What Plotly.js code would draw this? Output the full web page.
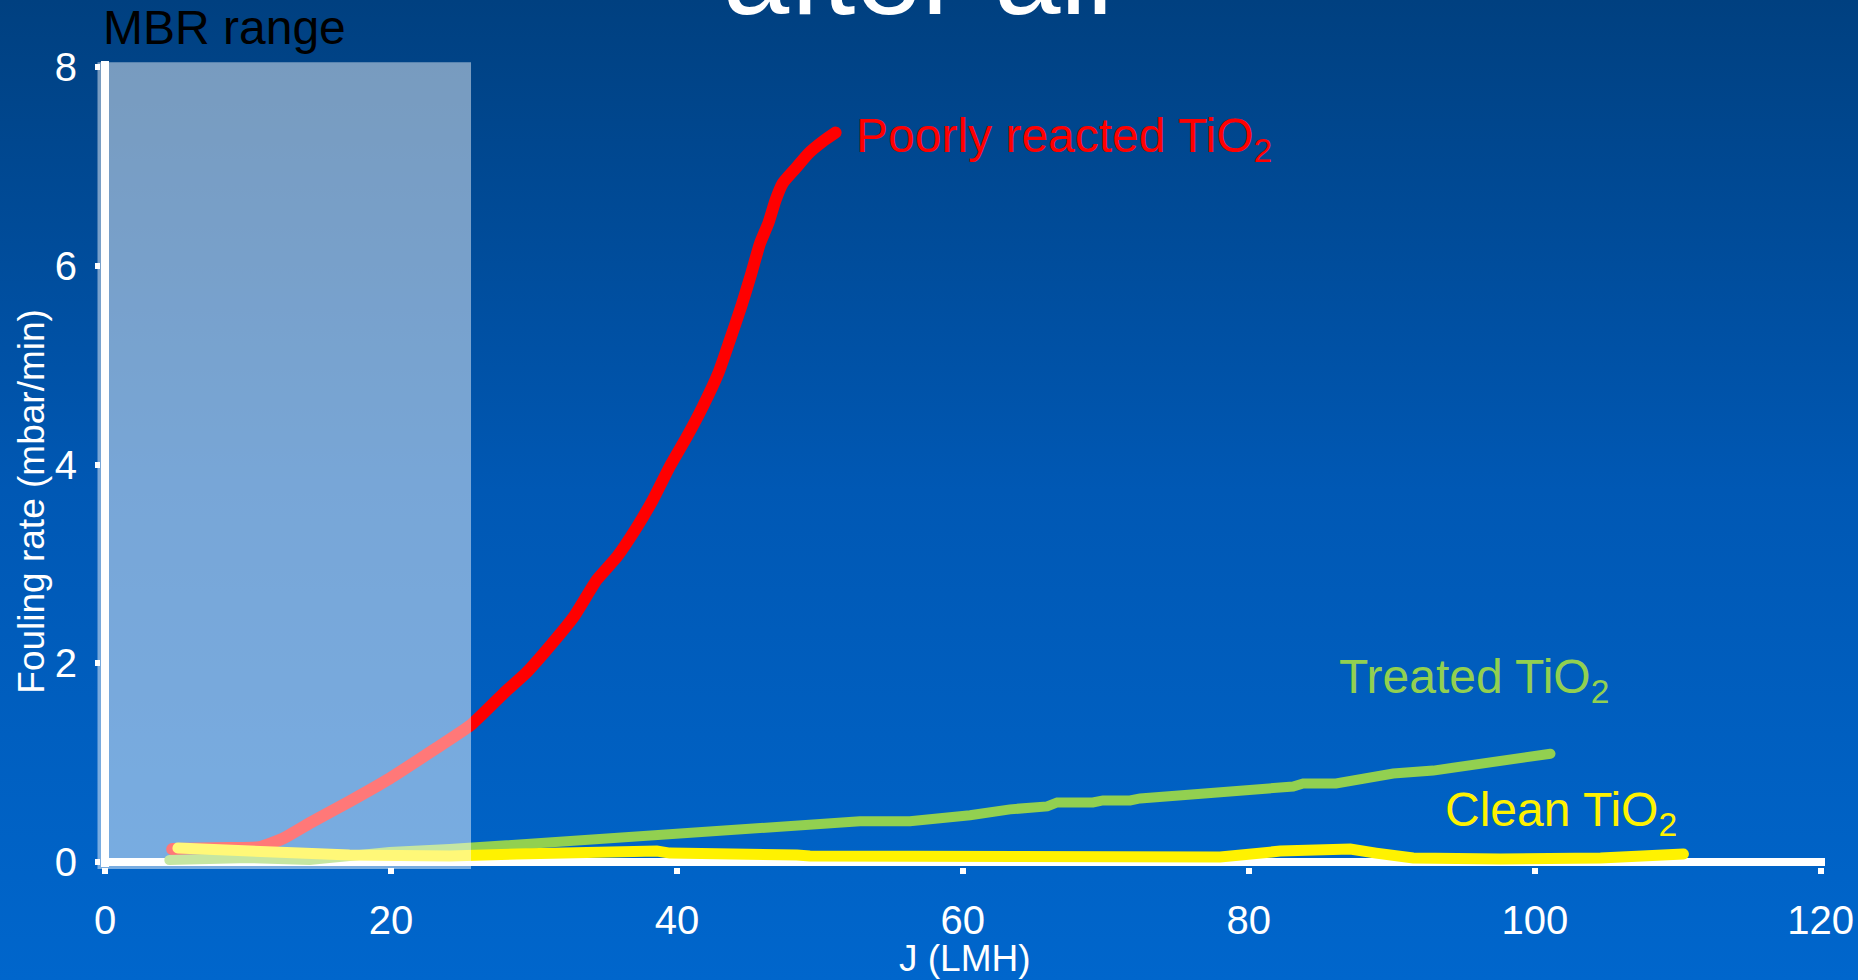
<!DOCTYPE html>
<html>
<head>
<meta charset="utf-8">
<script src="https://cdn.plot.ly/plotly-3.0.1.min.js"></script>
<style>
  html, body { margin: 0; padding: 0; }
  body {
    width: 1858px; height: 980px; overflow: hidden;
    background: linear-gradient(to bottom, #004080 0%, #0058b4 50%, #0066cc 100%);
  }
  #chart { width: 1858px; height: 980px; }
  #chart path.js-line { stroke-linecap: round !important; }
</style>
</head>
<body>
<div id="chart"></div>
<script>
// Fouling rate vs. flux for three TiO2 preparations
const poorlyJ    = [4.7, 8.7, 10.8, 12.5, 14.3, 17.1, 19.9, 23.0, 25.6, 27.9, 29.5, 31.1, 32.8, 34.4, 35.8, 37.2, 38.3, 39.5, 40.7, 41.8, 42.9, 43.7, 44.5, 45.2, 45.8, 46.4, 46.9, 47.4, 48.3, 49.2, 50.2, 51.1];
const poorlyRate = [0.13, 0.14, 0.15, 0.24, 0.39, 0.61, 0.84, 1.13, 1.38, 1.70, 1.91, 2.17, 2.47, 2.84, 3.07, 3.37, 3.64, 3.98, 4.28, 4.58, 4.92, 5.25, 5.59, 5.92, 6.22, 6.43, 6.66, 6.83, 6.98, 7.13, 7.25, 7.34];

const treatedJ    = [4.5, 10.1, 14.3, 16.2, 19.9, 24.1, 29.9, 34.6, 38.1, 45.1, 47.4, 48.8, 50.5, 51.6, 52.8, 56.3, 57.5, 58.4, 60.5, 63.3, 65.9, 66.6, 69.1, 69.8, 71.7, 72.4, 83.1, 83.8, 86.1, 90.1, 92.9, 95.2, 97.6, 101.1];
const treatedRate = [0.02, 0.04, 0.02, 0.05, 0.10, 0.13, 0.19, 0.22, 0.27, 0.35, 0.37, 0.37, 0.40, 0.40, 0.41, 0.41, 0.44, 0.44, 0.47, 0.53, 0.56, 0.60, 0.60, 0.62, 0.62, 0.64, 0.76, 0.79, 0.79, 0.89, 0.92, 0.97, 1.02, 1.09];

const cleanJ    = [5.1, 10.8, 13.6, 17.1, 19.5, 24.1, 28.8, 31.1, 34.4, 35.3, 38.6, 39.5, 43.2, 45.8, 48.4, 49.3, 68.0, 68.4, 74.7, 76.1, 78.0, 82.2, 83.8, 85.2, 87.1, 88.9, 91.5, 97.6, 104.6, 110.4];
const cleanRate = [0.14, 0.12, 0.09, 0.07, 0.06, 0.06, 0.08, 0.09, 0.09, 0.11, 0.11, 0.09, 0.09, 0.07, 0.07, 0.06, 0.05, 0.03, 0.03, 0.05, 0.05, 0.11, 0.11, 0.13, 0.13, 0.09, 0.04, 0.03, 0.04, 0.08];

// Upper end of the typical MBR operating flux window (LMH)
const mbrUpper = 25.6;

const xTicks = [0, 20, 40, 60, 80, 100, 120];
const yTicks = [0, 2, 4, 6, 8];

const seriesNames = ['Poorly reacted TiO<sub>2</sub>', 'Treated TiO<sub>2</sub>', 'Clean TiO<sub>2</sub>'];

const FONT = 'Liberation Sans, Arial, Helvetica, sans-serif';
const RED = '#ff0000', GREEN = '#92d050', YELLOW = '#fff200', WHITE = '#ffffff';

// Figure geometry
const W = 1858, H = 980;
const M = { l: 100.5, r: 33.2, t: 60.8, b: 113.1 };
const plotW = W - M.l - M.r, plotH = H - M.t - M.b;
const xRange = [-0.28, 120.3];
const yRange = [-0.05, 8.06];
const px2paperX = px => (px - M.l) / plotW;
const px2paperY = py => (H - M.b - py) / plotH;
const x2paper = v => (v - xRange[0]) / (xRange[1] - xRange[0]);

const traces = [
  { x: poorlyJ, y: poorlyRate, type: 'scatter', mode: 'lines',
    line: { color: RED, width: 12, shape: 'spline', smoothing: 0.5 } },
  { x: treatedJ, y: treatedRate, type: 'scatter', mode: 'lines',
    line: { color: GREEN, width: 10 } },
  { x: cleanJ, y: cleanRate, type: 'scatter', mode: 'lines',
    line: { color: YELLOW, width: 11 } }
];

// The axis lines are the zero lines, so they sit exactly on J = 0 and rate = 0
const axisBase = {
  showgrid: false,
  showline: false,
  zeroline: true, zerolinecolor: WHITE, zerolinewidth: 8,
  ticks: 'outside', tickwidth: 6, tickcolor: WHITE,
  tickfont: { family: FONT, size: 40, color: WHITE },
  fixedrange: true
};

const layout = {
  width: W,
  height: H,
  margin: { l: M.l, r: M.r, t: M.t, b: M.b, pad: 0 },
  paper_bgcolor: 'rgba(0,0,0,0)',
  plot_bgcolor: 'rgba(0,0,0,0)',
  showlegend: false,
  xaxis: Object.assign({}, axisBase, {
    range: xRange,
    tickvals: xTicks,
    ticktext: xTicks.map(String),
    ticklen: 6,
    ticklabelstandoff: 12
  }),
  yaxis: Object.assign({}, axisBase, {
    range: yRange,
    tickvals: yTicks,
    ticktext: yTicks.map(String),
    ticklen: 5,
    ticklabelstandoff: 10
  }),
  shapes: [
    { type: 'rect', layer: 'above', xref: 'paper', yref: 'paper',
      x0: px2paperX(97), x1: x2paper(mbrUpper), y0: px2paperY(869), y1: px2paperY(62),
      fillcolor: 'rgba(255,255,255,0.47)', line: { width: 0 } }
  ],
  annotations: [
    { text: 'after all', xref: 'paper', yref: 'paper', x: px2paperX(918), y: px2paperY(41),
      xanchor: 'center', yanchor: 'bottom', showarrow: false,
      font: { family: FONT, size: 119, color: WHITE } },
    { text: 'MBR range', xref: 'paper', yref: 'paper', x: px2paperX(101), y: px2paperY(27),
      xanchor: 'left', yanchor: 'middle', showarrow: false,
      font: { family: FONT, size: 48, color: '#000000' } },
    { text: seriesNames[0], xref: 'x', yref: 'y', x: 52.4, y: 7.28,
      xanchor: 'left', yanchor: 'middle', showarrow: false,
      font: { family: FONT, size: 48, color: RED } },
    { text: seriesNames[1], xref: 'x', yref: 'y', x: 86.2, y: 1.83,
      xanchor: 'left', yanchor: 'middle', showarrow: false,
      font: { family: FONT, size: 48, color: GREEN } },
    { text: seriesNames[2], xref: 'x', yref: 'y', x: 93.6, y: 0.49,
      xanchor: 'left', yanchor: 'middle', showarrow: false,
      font: { family: FONT, size: 48, color: YELLOW } },
    { text: 'Fouling rate (mbar/min)', xref: 'paper', yref: 'paper', x: px2paperX(31), y: px2paperY(501),
      xanchor: 'center', yanchor: 'middle', textangle: -90, showarrow: false,
      font: { family: FONT, size: 37, color: WHITE } },
    { text: 'J (LMH)', xref: 'paper', yref: 'paper', x: px2paperX(965), y: px2paperY(958),
      xanchor: 'center', yanchor: 'middle', showarrow: false,
      font: { family: FONT, size: 37, color: WHITE } }
  ]
};

Plotly.newPlot('chart', traces, layout, { displayModeBar: false, staticPlot: true });
</script>
</body>
</html>
